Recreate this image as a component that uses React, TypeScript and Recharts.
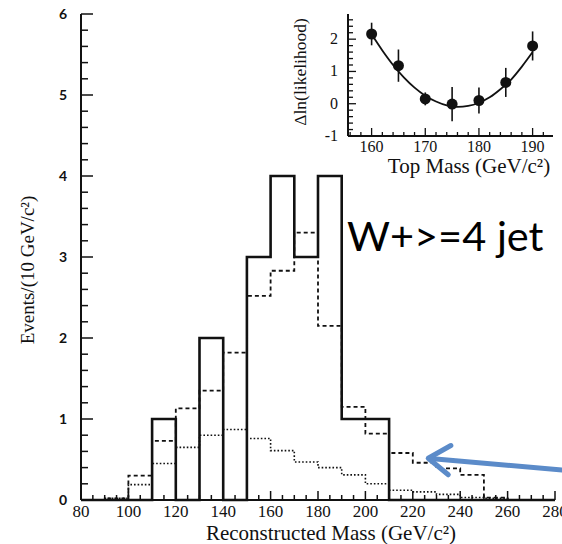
import React from 'react';
import {
  ComposedChart,
  Line,
  Scatter,
  ErrorBar,
  XAxis,
  YAxis,
  ReferenceLine
} from 'recharts';

// histogram bins (lower edges, 10 GeV wide)
const binEdges = [80, 90, 100, 110, 120, 130, 140, 150, 160, 170, 180, 190, 200, 210, 220, 230, 240, 250, 260, 270];
const lastEdge = 280;
const dataCounts = [0, 0, 0, 1, 0, 2, 0, 3, 4, 3, 4, 1, 1, 0, 0, 0, 0, 0, 0, 0];
const signalPlusBkg = [0, 0.02, 0.3, 0.73, 1.13, 1.35, 1.82, 2.52, 2.83, 3.3, 2.15, 1.15, 0.82, 0.58, 0.46, 0.39, 0.31, 0.03, 0, 0];
const bkgOnly = [0, 0.02, 0.19, 0.45, 0.65, 0.8, 0.87, 0.76, 0.61, 0.47, 0.4, 0.31, 0.2, 0.12, 0.1, 0.07, 0.03, 0.02, 0, 0];

// inset: likelihood scan
const topMass = [160, 165, 170, 175, 180, 185, 190];
const dLnL = [2.16, 1.18, 0.15, -0.01, 0.1, 0.66, 1.79];
const dLnLErr = [0.35, 0.5, 0.2, 0.53, 0.4, 0.45, 0.45];
const fitMass = [160, 162, 164, 166, 168, 170, 172, 174, 176, 178, 180, 182, 184, 186, 188, 190];
const fitLnL = [2.15, 1.65, 1.2, 0.82, 0.5, 0.25, 0.07, -0.05, -0.1, -0.07, 0.03, 0.2, 0.45, 0.75, 1.15, 1.6];

const xMajor = [80, 100, 120, 140, 160, 180, 200, 220, 240, 260, 280];
const yMajor = [0, 1, 2, 3, 4, 5, 6];
const insetXMajor = [160, 170, 180, 190];
const insetYMajor = [-1, 0, 1, 2];

const serif = '"Liberation Serif", "Times New Roman", serif';
const ink = '#111';

const histTable = [...binEdges, lastEdge].map((edge, i) => {
  const k = Math.min(i, binEdges.length - 1);
  return { edge, data: dataCounts[k], total: signalPlusBkg[k], bkg: bkgOnly[k] };
});
const pointTable = topMass.map((m, i) => ({ m, lnl: dLnL[i], err: dLnLErr[i] }));
const fitTable = fitMass.map((m, i) => ({ m, lnl: fitLnL[i] }));

const range = (a: number, b: number, step: number) => {
  const out: number[] = [];
  for (let v = a; v <= b + 1e-9; v += step) out.push(Math.round(v * 100) / 100);
  return out;
};
const isIn = (v: number, list: number[]) => list.some(t => Math.abs(t - v) < 1e-6);

const MainXTick = ({ x, y, payload }: any) => {
  const major = isIn(payload.value, xMajor);
  return (
    <g>
      <line x1={x} x2={x} y1={y} y2={y - (major ? 9 : 5)} stroke={ink} strokeWidth={1.5} />
      {major && (
        <text x={x} y={y + 17} textAnchor="middle" fontFamily={serif} fontSize={17} fill={ink}>
          {payload.value}
        </text>
      )}
    </g>
  );
};

const MainYTick = ({ x, y, payload }: any) => {
  const major = isIn(payload.value, yMajor);
  return (
    <g>
      <line x1={x} x2={x + (major ? 12 : 7)} y1={y} y2={y} stroke={ink} strokeWidth={1.5} />
      {major && (
        <text x={x - 14} y={y + 5} textAnchor="end" fontFamily="Lato, sans-serif" fontWeight={700} fontSize={14} fill={ink}>
          {payload.value}
        </text>
      )}
    </g>
  );
};

const InsetXTick = ({ x, y, payload }: any) => {
  const major = isIn(payload.value, insetXMajor);
  return (
    <g>
      <line x1={x} x2={x} y1={y} y2={y - (major ? 8 : 4)} stroke={ink} strokeWidth={1.3} />
      {major && (
        <text x={x} y={y + 16} textAnchor="middle" fontFamily={serif} fontSize={16} fill={ink}>
          {payload.value}
        </text>
      )}
    </g>
  );
};

const InsetYTick = ({ x, y, payload }: any) => {
  const major = isIn(payload.value, insetYMajor);
  return (
    <g>
      <line x1={x} x2={x + (major ? 8 : 5)} y1={y} y2={y} stroke={ink} strokeWidth={1.3} />
      {major && (
        <text x={x - 10} y={y + 5} textAnchor="end" fontFamily={serif} fontSize={16} fill={ink}>
          {payload.value}
        </text>
      )}
    </g>
  );
};

// blue annotation arrow pointing at the expectation histogram
const Arrow = (props: any) => {
  const { x1, y1, x2, y2 } = props;
  const ang = Math.atan2(y1 - y2, x1 - x2);
  const len = 26;
  const spread = 0.6;
  const ax = x2 + len * Math.cos(ang + spread);
  const ay = y2 + len * Math.sin(ang + spread);
  const bx = x2 + len * Math.cos(ang - spread);
  const by = y2 + len * Math.sin(ang - spread);
  return (
    <g stroke="#5b8bc9" strokeWidth={5} fill="none" strokeLinecap="round">
      <line x1={x1} y1={y1} x2={x2 + 2 * Math.cos(ang)} y2={y2 + 2 * Math.sin(ang)} />
      <polyline points={`${ax},${ay} ${x2},${y2} ${bx},${by}`} strokeLinejoin="round" />
    </g>
  );
};

export default function App() {
  return (
    <div style={{ position: 'absolute', left: 0, top: 0, width: 562, height: 544, background: '#fff' }}>
      <ComposedChart width={562} height={544} data={histTable} margin={{ top: 14, right: 7, bottom: 0, left: 0 }}>
        <XAxis
          dataKey="edge"
          type="number"
          domain={[80, 280]}
          ticks={range(80, 280, 5)}
          interval={0}
          height={44}
          tickSize={0}
          tickMargin={0}
          tickLine={false}
          tick={<MainXTick />}
          axisLine={{ stroke: ink, strokeWidth: 2 }}
          label={{
            content: () => (
              <text x={331} y={540} textAnchor="middle" fontFamily={serif} fontSize={21} fill={ink}>
                Reconstructed Mass (GeV/c²)
              </text>
            )
          }}
        />
        <XAxis xAxisId="top" orientation="top" type="number" domain={[80, 280]} height={0} tick={false} tickLine={false} axisLine={{ stroke: ink, strokeWidth: 2 }} />
        <YAxis
          type="number"
          domain={[0, 6]}
          ticks={range(0, 6, 0.2)}
          interval={0}
          width={81}
          tickSize={0}
          tickMargin={0}
          tickLine={false}
          tick={<MainYTick />}
          axisLine={{ stroke: ink, strokeWidth: 2 }}
          label={{
            content: () => {
              const cx = 34;
              const cy = 270;
              return (
                <text x={cx} y={cy} transform={`rotate(-90 ${cx} ${cy})`} textAnchor="middle" fontFamily={serif} fontSize={19} fill={ink}>
                  Events/(10 GeV/c²)
                </text>
              );
            }
          }}
        />
        <YAxis yAxisId="right" orientation="right" type="number" domain={[0, 6]} width={0} tick={false} tickLine={false} axisLine={{ stroke: ink, strokeWidth: 2 }} />
        <Line type="stepAfter" dataKey="bkg" stroke={ink} strokeWidth={1.6} strokeDasharray="1.6 2" dot={false} isAnimationActive={false} />
        <Line type="stepAfter" dataKey="total" stroke={ink} strokeWidth={1.8} strokeDasharray="4 3" dot={false} isAnimationActive={false} />
        <Line type="stepAfter" dataKey="data" stroke={ink} strokeWidth={2.6} dot={false} isAnimationActive={false} />
        <ReferenceLine
          segment={[{ x: 283, y: 0.37 }, { x: 226.5, y: 0.515 }]}
          ifOverflow="visible"
          shape={<Arrow />}
        />
      </ComposedChart>

      <div style={{ position: 'absolute', left: 347, top: 212, fontFamily: 'Lato, sans-serif', fontSize: 41.5, lineHeight: '46px', color: '#000', whiteSpace: 'nowrap' }}>
        W+&gt;=4 jet
      </div>

      <div style={{ position: 'absolute', left: 290, top: 0 }}>
        <ComposedChart width={272} height={180} margin={{ top: 14, right: 9, bottom: 0, left: 0 }}>
          <XAxis
            dataKey="m"
            type="number"
            domain={[155.6, 193.8]}
            allowDataOverflow
            ticks={range(156, 192, 2)}
            interval={0}
            height={44}
            tickSize={0}
            tickMargin={0}
            tickLine={false}
            tick={<InsetXTick />}
            axisLine={{ stroke: ink, strokeWidth: 2 }}
            label={{
              content: () => (
                <text x={179} y={173} textAnchor="middle" fontFamily={serif} fontSize={21} fill={ink}>
                  Top Mass (GeV/c²)
                </text>
              )
            }}
          />
          <XAxis xAxisId="top" orientation="top" type="number" domain={[155.6, 193.8]} height={0} tick={false} tickLine={false} axisLine={{ stroke: ink, strokeWidth: 2 }} />
          <YAxis
            dataKey="lnl"
            type="number"
            domain={[-1, 2.78]}
            allowDataOverflow
            ticks={range(-1, 2.6, 0.2)}
            interval={0}
            width={58}
            tickSize={0}
            tickMargin={0}
            tickLine={false}
            tick={<InsetYTick />}
            axisLine={{ stroke: ink, strokeWidth: 2 }}
            label={{
              content: () => {
                const cx = 16;
                const cy = 72;
                return (
                  <text x={cx} y={cy} transform={`rotate(-90 ${cx} ${cy})`} textAnchor="middle" fontFamily={serif} fontSize={17.5} fill={ink}>
                    Δln(likelihood)
                  </text>
                );
              }
            }}
          />
          <YAxis yAxisId="right" orientation="right" type="number" domain={[-1, 2.78]} width={0} tick={false} tickLine={false} axisLine={{ stroke: ink, strokeWidth: 2 }} />
          <Line data={fitTable} type="monotone" dataKey="lnl" stroke={ink} strokeWidth={1.8} dot={false} isAnimationActive={false} />
          <Scatter
            data={pointTable}
            dataKey="lnl"
            fill={ink}
            isAnimationActive={false}
            shape={(p: any) => <circle cx={p.cx} cy={p.cy} r={5.5} fill={ink} />}
          >
            <ErrorBar dataKey="err" direction="y" width={0} stroke={ink} strokeWidth={1.6} />
          </Scatter>
        </ComposedChart>
      </div>
    </div>
  );
}
